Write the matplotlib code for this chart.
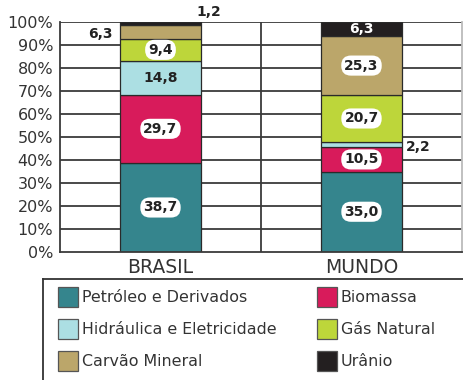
import matplotlib
matplotlib.use("Agg")
import matplotlib.pyplot as plt
from matplotlib.patches import Rectangle
from matplotlib.lines import Line2D

# Energy matrix shares (%)
regions = ["BRASIL", "MUNDO"]
sources = ["Petróleo e Derivados", "Biomassa", "Hidráulica e Eletricidade",
           "Gás Natural", "Carvão Mineral", "Urânio"]
brasil = [38.7, 29.7, 14.8, 9.4, 6.3, 1.2]
mundo = [35.0, 10.5, 2.2, 20.7, 25.3, 6.3]
y_ticks = [0, 10, 20, 30, 40, 50, 60, 70, 80, 90, 100]

colors = ["#35858d", "#d81b5b", "#acdfe3", "#bdd63a", "#bba66a", "#231f20"]
TXT = "#222222"

plt.rcParams["font.family"] = ["DejaVu Sans"]

fig = plt.figure(figsize=(4.63, 3.80), dpi=100)
W, H = 463, 380
ax = fig.add_axes([60 / W, (H - 252) / H, (462 - 60) / W, (252 - 22) / H])

ax.set_xlim(-0.5, 1.5)
ax.set_ylim(0, 100)
ax.set_yticks(y_ticks)
ax.set_yticklabels([f"{t}%" for t in y_ticks], fontsize=11.5, color="#333333")
ax.set_xticks([0, 1])
ax.set_xticklabels(regions, fontsize=13.5, color="#333333")
ax.tick_params(axis="both", length=0)
ax.tick_params(axis="y", pad=5)
ax.tick_params(axis="x", pad=4)

# horizontal grid and category separator
for t in y_ticks[1:]:
    ax.axhline(t, color="#3a3a3a", lw=1.3, zorder=0)
ax.axvline(0.5, color="#3a3a3a", lw=1.3, zorder=0)
for s in ["left", "bottom"]:
    ax.spines[s].set_color("#3a3a3a")
    ax.spines[s].set_linewidth(1.3)
ax.spines["top"].set_visible(False)
ax.spines["right"].set_color("#bbbbbb")
ax.spines["right"].set_linewidth(1.3)

width = 0.4
series = [brasil, mundo]


def fmt(v):
    return f"{v:.1f}".replace(".", ",")


pill = dict(boxstyle="round,pad=0.22,rounding_size=0.7", fc="white", ec="none")

for xi, vals in enumerate(series):
    bottom = 0.0
    for si, v in enumerate(vals):
        ax.bar(xi, v, width=width, bottom=bottom, color=colors[si],
               edgecolor="#2a2a2a", linewidth=0.9, zorder=2)
        yc = bottom + v / 2
        top = bottom + v
        key = (regions[xi], sources[si])
        if key == ("BRASIL", "Carvão Mineral"):
            ax.annotate(fmt(v), (xi - width / 2, yc), xytext=(-8, -2),
                        textcoords="offset pixels", ha="right", va="center",
                        fontsize=10, fontweight="bold", color=TXT, zorder=3)
        elif key == ("BRASIL", "Urânio"):
            ax.annotate(fmt(v), (xi + width / 2, top), xytext=(8, 10),
                        textcoords="offset pixels", ha="center", va="center",
                        fontsize=10, fontweight="bold", color=TXT, zorder=3,
                        annotation_clip=False)
        elif key == ("MUNDO", "Hidráulica e Eletricidade"):
            ax.annotate(fmt(v), (xi + width / 2, yc), xytext=(4, -2),
                        textcoords="offset pixels", ha="left", va="center",
                        fontsize=10, fontweight="bold", color=TXT, zorder=3)
        elif key == ("MUNDO", "Urânio"):
            ax.text(xi, yc, fmt(v), ha="center", va="center", fontsize=10,
                    fontweight="bold", color="white", zorder=3)
        elif key == ("BRASIL", "Hidráulica e Eletricidade"):
            ax.text(xi, yc, fmt(v), ha="center", va="center", fontsize=10,
                    fontweight="bold", color=TXT, zorder=3)
        else:
            ax.text(xi, yc, fmt(v), ha="center", va="center", fontsize=10,
                    fontweight="bold", color=TXT, zorder=3, bbox=pill)
        bottom = top

# legend panel
fig.add_artist(Line2D([43 / W, 1.0], [1 - 279 / H, 1 - 279 / H],
                      color="#333333", lw=1.3, transform=fig.transFigure))
fig.add_artist(Line2D([43 / W, 43 / W], [1 - 279 / H, 0.0],
                      color="#333333", lw=1.3, transform=fig.transFigure))
col_x = [58, 317]
row_y = [297, 329, 361]
for i, (name, c) in enumerate(zip(sources, colors)):
    cx = col_x[i % 2]
    cy = row_y[i // 2]
    fig.add_artist(Rectangle((cx / W, 1 - (cy + 10) / H), 20 / W, 20 / H,
                             facecolor=c, edgecolor="#555555", lw=0.9,
                             transform=fig.transFigure))
    fig.text((cx + 24) / W, 1 - cy / H, name, ha="left", va="center",
             fontsize=11.4, color="#333333")

fig.savefig("out.png", dpi=100)
